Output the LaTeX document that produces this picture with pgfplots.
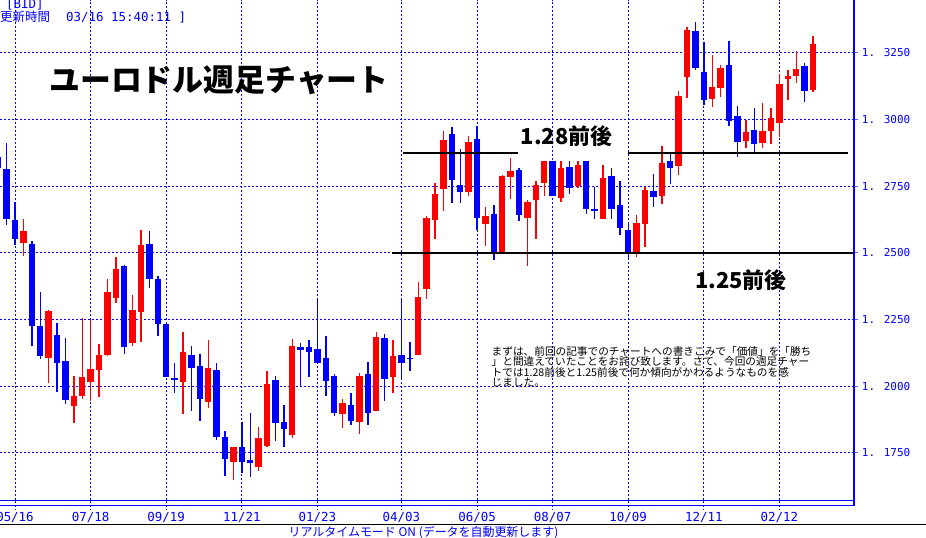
\documentclass[border=0pt]{standalone}
\usepackage{pgfplots}
\usepackage{pgfplotstable}
\pgfplotsset{compat=1.18}
\usepackage{fontspec}
\newfontfamily\jp{Noto Sans CJK JP}
\newfontfamily\pix{DejaVu Sans Mono}
\definecolor{cblue}{RGB}{0,0,255}
\definecolor{cred}{RGB}{255,0,0}

% blue (down) candles: op = body top, cl = body bottom
\pgfplotstableread{
x hi lo op cl
-2 1.2861 1.2818 1.2861 1.2818
-1 1.2914 1.2605 1.2815 1.2628
0 1.2692 1.2530 1.2624 1.2554
2 1.2545 1.2151 1.2534 1.2227
3 1.2354 1.2103 1.2226 1.2115
5 1.2238 1.1980 1.2193 1.2089
6 1.2181 1.1934 1.2095 1.1950
13 1.2455 1.2121 1.2451 1.2149
16 1.2583 1.2370 1.2534 1.2403
17 1.2414 1.2190 1.2403 1.2235
18 1.2235 1.2036 1.2234 1.2036
19 1.2088 1.1976 1.2032 1.2024
21 1.2151 1.1909 1.2118 1.2070
22 1.2121 1.1871 1.2076 1.1951
24 1.2088 1.1800 1.2061 1.1809
25 1.1834 1.1665 1.1810 1.1729
27 1.1867 1.1676 1.1773 1.1717
28 1.1901 1.1659 1.1724 1.1714
31 1.2039 1.1796 1.2024 1.1864
32 1.1930 1.1774 1.1866 1.1841
34 1.2164 1.1999 1.2148 1.2136
35 1.2174 1.2036 1.2148 1.2129
36 1.2328 1.2088 1.2140 1.2088
37 1.2189 1.1964 1.2106 1.2021
38 1.2046 1.1889 1.2039 1.1901
40 1.1975 1.1855 1.1930 1.1871
42 1.2091 1.1855 1.2046 1.1901
44 1.2196 1.1946 1.2181 1.2029
46 1.2330 1.2022 1.2118 1.2086
47 1.2167 1.2059 1.2108 1.2104
52 1.2974 1.2689 1.2946 1.2774
53 1.2890 1.2689 1.2755 1.2730
55 1.2976 1.2587 1.2928 1.2632
57 1.2680 1.2475 1.2646 1.2501
60 1.2820 1.2621 1.2811 1.2643
64 1.2845 1.2715 1.2845 1.2715
66 1.2845 1.2722 1.2823 1.2745
68 1.2845 1.2647 1.2845 1.2666
69 1.2749 1.2629 1.2666 1.2659
71 1.2819 1.2629 1.2789 1.2666
72 1.2771 1.2569 1.2680 1.2595
73 1.2614 1.2474 1.2587 1.2504
76 1.2796 1.2674 1.2733 1.2710
78 1.2871 1.2760 1.2845 1.2820
81 1.3366 1.3187 1.3333 1.3195
82 1.3291 1.3056 1.3179 1.3075
85 1.3295 1.2977 1.3205 1.2996
86 1.3051 1.2861 1.3014 1.2917
88 1.3044 1.2876 1.2961 1.2910
94 1.3213 1.3067 1.3201 1.3109
}\bluedata

% red (up) candles: op = body bottom, cl = body top
\pgfplotstableread{
x hi lo op cl
1 1.2628 1.2489 1.2539 1.2583
4 1.2286 1.2013 1.2107 1.2283
7 1.2039 1.1864 1.1927 1.1964
8 1.2256 1.1954 1.1965 1.2035
9 1.2251 1.1946 1.2017 1.2065
10 1.2159 1.1961 1.2062 1.2118
11 1.2403 1.2114 1.2118 1.2354
12 1.2485 1.2314 1.2332 1.2440
14 1.2343 1.2152 1.2164 1.2286
15 1.2586 1.2167 1.2280 1.2530
20 1.2205 1.1898 1.2017 1.2129
23 1.2174 1.1920 1.1942 1.2069
26 1.1774 1.1649 1.1717 1.1773
29 1.1849 1.1684 1.1699 1.1806
30 1.2059 1.1774 1.1777 1.2009
33 1.2176 1.1807 1.1818 1.2151
39 1.1953 1.1845 1.1897 1.1938
41 1.2049 1.1821 1.1866 1.2039
43 1.2204 1.1909 1.1909 1.2185
45 1.2174 1.1976 1.2036 1.2114
48 1.2392 1.2118 1.2118 1.2336
49 1.2640 1.2328 1.2365 1.2632
50 1.2764 1.2554 1.2624 1.2721
51 1.2959 1.2659 1.2741 1.2924
54 1.2939 1.2715 1.2730 1.2916
56 1.2673 1.2527 1.2610 1.2639
58 1.2793 1.2501 1.2501 1.2790
59 1.2856 1.2704 1.2786 1.2808
61 1.2699 1.2452 1.2632 1.2692
62 1.2771 1.2554 1.2700 1.2755
63 1.2845 1.2715 1.2764 1.2845
65 1.2845 1.2692 1.2707 1.2819
67 1.2845 1.2745 1.2752 1.2830
70 1.2830 1.2629 1.2629 1.2781
74 1.2644 1.2486 1.2505 1.2613
75 1.2749 1.2524 1.2610 1.2736
77 1.2901 1.2685 1.2715 1.2838
79 1.3108 1.2794 1.2827 1.3089
80 1.3348 1.3082 1.3161 1.3336
83 1.3243 1.3049 1.3079 1.3123
84 1.3205 1.3086 1.3120 1.3194
87 1.3000 1.2895 1.2921 1.2954
89 1.3063 1.2895 1.2914 1.2958
90 1.3044 1.2910 1.2959 1.3006
91 1.3171 1.2936 1.2989 1.3134
92 1.3186 1.3075 1.3154 1.3164
93 1.3258 1.3139 1.3165 1.3190
95 1.3314 1.3105 1.3112 1.3284
}\reddata

\pgfplotsset{
  wick/.style={only marks, mark=*, mark size=0pt, mark options={draw=none, fill=none}, forget plot,
    error bars/.cd, y dir=both, y explicit, error mark=none,
    error bar style={line width=1.4bp, #1, solid}},
  body/.style={only marks, mark=*, mark size=0pt, mark options={draw=none, fill=none}, forget plot,
    error bars/.cd, y dir=both, y explicit, error mark=none,
    error bar style={line width=6.3bp, #1, solid}},
}

\begin{document}
\begin{tikzpicture}
\useasboundingbox (0bp,0bp) rectangle (926bp,538bp);
\begin{axis}[
  at={(0bp,538bp)}, anchor=north west,
  width=854bp, height=500.5bp, scale only axis,
  xmin=-1.7857, xmax=99.881, ymin=1.1571875, ymax=1.344875,
  axis line style={draw=none},
  tick style={draw=none},
  major tick length=0pt,
  xtick={0,9,18,27,36,46,55,64,73,82,91},
  xticklabels={05/16,07/18,09/19,11/21,01/23,04/03,06/05,08/07,10/09,12/11,02/12},
  ytick={1.175,1.2,1.225,1.25,1.275,1.3,1.325},
  yticklabels={1. 1750,1. 2000,1. 2250,1. 2500,1. 2750,1. 3000,1. 3250},
  yticklabel pos=right,
  grid=major,
  major grid style={cblue, line width=1bp, dash pattern=on 2bp off 2bp},
  xticklabel style={font=\pix\fontsize{12.5}{12.5}\selectfont, text=cblue, anchor=base, inner sep=0pt, yshift=-21bp},
  yticklabel style={font=\pix\fontsize{11}{11}\selectfont, text=cblue, anchor=west, inner sep=0pt, xshift=7.7bp},
  clip=false,
]
% wicks
\addplot[cblue, wick=cblue]
  table[x=x, y expr={(\thisrow{hi}+\thisrow{lo})/2}, y error expr={(\thisrow{hi}-\thisrow{lo})/2}] {\bluedata};
\addplot[cred, wick=cred]
  table[x=x, y expr={(\thisrow{hi}+\thisrow{lo})/2}, y error expr={(\thisrow{hi}-\thisrow{lo})/2}] {\reddata};
% bodies
\addplot[cblue, body=cblue]
  table[x=x, y expr={(\thisrow{op}+\thisrow{cl})/2}, y error expr={abs(\thisrow{op}-\thisrow{cl})/2}] {\bluedata};
\addplot[cred, body=cred]
  table[x=x, y expr={(\thisrow{op}+\thisrow{cl})/2}, y error expr={abs(\thisrow{op}-\thisrow{cl})/2}] {\reddata};
% support / resistance lines
\draw[black, line width=2.8bp] (axis cs:46.15,1.2875) -- (axis cs:59.88,1.2875);
\draw[black, line width=2.8bp] (axis cs:72.98,1.2875) -- (axis cs:99.17,1.2875);
\draw[black, line width=2.8bp] (axis cs:44.85,1.25) -- (axis cs:99.9,1.25);
% grid extensions below frame
\pgfplotsinvokeforeach{0,9,18,27,36,46,55,64,73,82,91}{
  \draw[cblue, line width=1bp, dash pattern=on 2bp off 2bp] (axis cs:#1,1.1571875) -- ++(0bp,-9.5bp);
}
% small ticks right of the frame
\pgfplotsinvokeforeach{1.175,1.2,1.225,1.25,1.275,1.3,1.325}{
  \draw[cblue!60, line width=1bp] (axis cs:99.881,#1) ++(1bp,0bp) -- ++(3bp,0bp);
}
\end{axis}
% frame lines
\draw[cblue, line width=1.2bp] (0bp,37.5bp) -- (854bp,37.5bp);
\draw[cblue, line width=1.2bp] (0bp,32.5bp) -- (855bp,32.5bp);
\draw[cblue, line width=1.8bp] (854.2bp,538bp) -- (854.2bp,31.9bp);
\draw[black, line width=1bp] (0bp,13bp) -- (926bp,13bp);
% texts
\node[anchor=base west, inner sep=0pt, font=\pix\fontsize{12.5}{12.5}\selectfont, text=cblue] at (6bp,529.5bp) {[BID]};
\node[anchor=base west, inner sep=0pt, font=\jp\fontsize{12.5}{12.5}\selectfont, text=cblue] at (0bp,516bp) {更新時間};
\node[anchor=base west, inner sep=0pt, font=\pix\fontsize{12.5}{12.5}\selectfont, text=cblue] at (66bp,516bp) {03/16 15:40:11 ]};
\node[anchor=center, inner sep=0pt, font=\jp\bfseries\fontsize{31}{31}\selectfont] at (219bp,458bp) {ユーロドル週足チャート};
\node[anchor=center, inner sep=0pt, font=\jp\bfseries\fontsize{22}{22}\selectfont] at (566.7bp,401.7bp) {1.28前後};
\node[anchor=center, inner sep=0pt, font=\jp\bfseries\fontsize{22}{22}\selectfont] at (741bp,258bp) {1.25前後};
\node[anchor=base west, inner sep=0pt, font=\jp\fontsize{10.7}{10.7}\selectfont] at (491.5bp,182.5bp) {まずは、前回の記事でのチャートへの書きこみで「価値」を「勝ち};
\node[anchor=base west, inner sep=0pt, font=\jp\fontsize{10.7}{10.7}\selectfont] at (491.5bp,172bp) {」と間違えていたことをお詫び致します。さて、今回の週足チャー};
\node[anchor=base west, inner sep=0pt, font=\jp\fontsize{10.7}{10.7}\selectfont] at (491.5bp,161.5bp) {トでは1.28前後と1.25前後で何か傾向がかわるようなものを感};
\node[anchor=base west, inner sep=0pt, font=\jp\fontsize{10.7}{10.7}\selectfont] at (491.5bp,151bp) {じました。};
\node[anchor=base, inner sep=0pt, font=\jp\fontsize{12}{12}\selectfont, text=cblue] at (423.5bp,1.5bp) {リアルタイムモード ON (データを自動更新します)};
\end{tikzpicture}
\end{document}
